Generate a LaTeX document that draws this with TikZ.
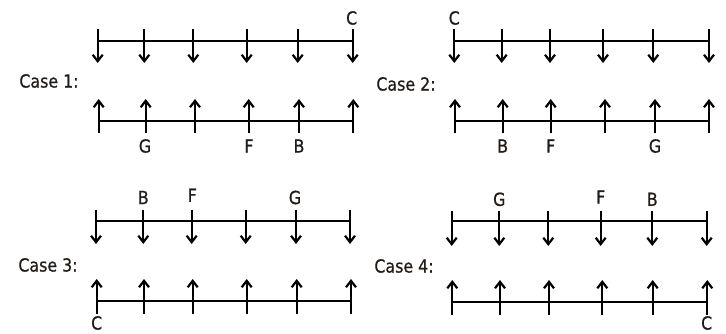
\documentclass[tikz,border=0pt]{standalone}
\usepackage{fontspec}
\setmainfont[FakeStretch=0.88,FakeBold=0.8]{DejaVu Sans}
\usetikzlibrary{arrows.meta}
\definecolor{txt}{RGB}{35,28,22}
\tikzset{
  bar/.style={line width=2pt, black},
  tick/.style={line width=2pt, black},
  down/.style={tick, -{Straight Barb[length=6.5pt,width=10pt,line width=2.2pt]}},
  up/.style={tick, {Straight Barb[length=6.5pt,width=10pt,line width=2.2pt]}-},
  lab/.style={text=txt, font=\fontsize{18}{18}\selectfont, inner sep=0pt},
}
\begin{document}
\begin{tikzpicture}[x=1pt,y=-1pt]
\useasboundingbox (0,0) rectangle (726,334);
% ---------- Case 1
\node[lab] (c1) at (49,81) {Case 1:};
\foreach \x [count=\i] in {97.7,144.3,193.3,246.7,297.7,352.7}{
  \coordinate (a1s\i) at (\x,29); \coordinate (a1l\i) at (\x,41); \coordinate (a1t\i) at (\x,63);
  \draw[down] (a1s\i) -- (a1t\i);}
\draw[bar] (a1l1) -- (a1l6);
\foreach \x [count=\i] in {98.7,145.7,195,248.7,299,353.3}{
  \coordinate (b1t\i) at (\x,99); \coordinate (b1l\i) at (\x,121); \coordinate (b1e\i) at (\x,133);
  \draw[up] (b1t\i) -- (b1e\i);}
\draw[bar] (b1l1) -- (b1l6);
\node[lab] (C1) at (351.7,18) {C};
\node[lab] (G1) at (145,146) {G};
\node[lab] (F1) at (249,146) {F};
\node[lab] (B1) at (299,146) {B};
% ---------- Case 2
\node[lab] (c2) at (406,84) {Case 2:};
\foreach \x [count=\i] in {454.3,501.7,550,603,653.3,709}{
  \coordinate (a2s\i) at (\x,29); \coordinate (a2l\i) at (\x,41); \coordinate (a2t\i) at (\x,63);
  \draw[down] (a2s\i) -- (a2t\i);}
\draw[bar] (a2l1) -- (a2l6);
\foreach \x [count=\i] in {455,502.7,550.7,605,655,709}{
  \coordinate (b2t\i) at (\x,99); \coordinate (b2l\i) at (\x,121); \coordinate (b2e\i) at (\x,133);
  \draw[up] (b2t\i) -- (b2e\i);}
\draw[bar] (b2l1) -- (b2l6);
\node[lab] (C2) at (454.3,18) {C};
\node[lab] (B2) at (502.7,146) {B};
\node[lab] (F2) at (550.7,146) {F};
\node[lab] (G2) at (655,146) {G};
% ---------- Case 3
\node[lab] (c3) at (48,265) {Case 3:};
\foreach \x [count=\i] in {96,143.3,191.7,245.7,296,350}{
  \coordinate (a3s\i) at (\x,209.5); \coordinate (a3l\i) at (\x,220.5); \coordinate (a3t\i) at (\x,244);
  \draw[down] (a3s\i) -- (a3t\i);}
\draw[bar] (a3l1) -- (a3l6);
\foreach \x [count=\i] in {96.7,144,192.7,246.7,296.7,351}{
  \coordinate (b3t\i) at (\x,279); \coordinate (b3l\i) at (\x,301.3); \coordinate (b3e\i) at (\x,314);
  \draw[up] (b3t\i) -- (b3e\i);}
\draw[bar] (b3l1) -- (b3l6);
\node[lab] (B3) at (143.3,197.5) {B};
\node[lab] (F3) at (192.3,195.3) {F};
\node[lab] (G3) at (295,197.5) {G};
\node[lab] (C3) at (96.7,323) {C};
% ---------- Case 4
\node[lab] (c4) at (404,266) {Case 4:};
\foreach \x [count=\i] in {451.7,499.3,548.3,600.7,652.3,706.7}{
  \coordinate (a4s\i) at (\x,211); \coordinate (a4l\i) at (\x,221.3); \coordinate (a4t\i) at (\x,246);
  \draw[down] (a4s\i) -- (a4t\i);}
\draw[bar] (a4l1) -- (a4l6);
\foreach \x [count=\i] in {452.3,500,549,602.3,652.7,707.3}{
  \coordinate (b4t\i) at (\x,280); \coordinate (b4l\i) at (\x,302); \coordinate (b4e\i) at (\x,315);
  \draw[up] (b4t\i) -- (b4e\i);}
\draw[bar] (b4l1) -- (b4l6);
\node[lab] (G4) at (499.3,199.3) {G};
\node[lab] (F4) at (600.7,197) {F};
\node[lab] (B4) at (652.3,199.3) {B};
\node[lab] (C4) at (706.7,323) {C};
\end{tikzpicture}
\end{document}
